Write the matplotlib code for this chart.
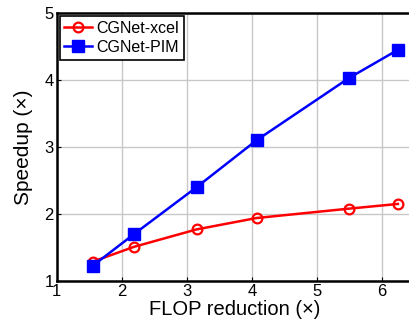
import matplotlib
matplotlib.use('Agg')
import matplotlib.pyplot as plt

plt.rcParams['font.family'] = ['Liberation Sans', 'DejaVu Sans']

flop = [1.56, 2.19, 3.15, 4.07, 5.49, 6.24]
xcel = [1.29, 1.51, 1.77, 1.94, 2.08, 2.15]
pim = [1.23, 1.70, 2.40, 3.10, 4.03, 4.45]

fig = plt.figure(figsize=(4.09, 3.23), dpi=100)
# axes runs past the right edge of the figure, like the original crop
ax = fig.add_axes([56.5 / 409, 1 - 281 / 323, 356 / 409, 268 / 323])

ax.plot(flop, xcel, color='red', lw=1.8, marker='o', ms=7, mfc='none', mew=1.6, label='CGNet-xcel')
ax.plot(flop, pim, color='blue', lw=1.8, marker='s', ms=8, label='CGNet-PIM')

ax.set_xlim(1, 1 + 356 / 65.15)
ax.set_ylim(1, 5)
ax.set_xticks([1, 2, 3, 4, 5, 6])
ax.set_yticks([1, 2, 3, 4, 5])
ax.grid(True, color='#c8c8c8', lw=1)
ax.set_axisbelow(True)
for s in ax.spines.values():
    s.set_linewidth(1.8)
ax.tick_params(direction='in', length=3, labelsize=12, pad=2)
ax.set_xlabel('FLOP reduction (×)', fontsize=14.5, labelpad=1)
ax.set_ylabel('Speedup (×)', fontsize=15, labelpad=8)

leg = ax.legend(loc='upper left', fontsize=11.5, fancybox=False, framealpha=1,
                edgecolor='black', handlelength=1.7, borderpad=0.3,
                labelspacing=0.25, handletextpad=0.3, borderaxespad=0.2)
leg.get_frame().set_linewidth(1.2)

fig.savefig('out.png', dpi=100)
